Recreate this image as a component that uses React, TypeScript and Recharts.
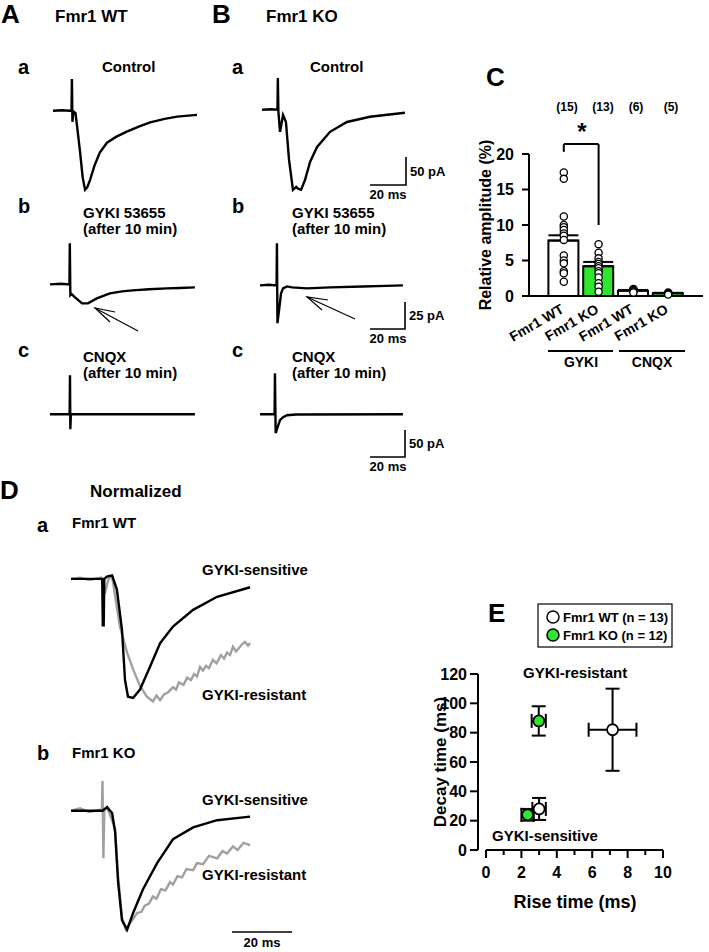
import React from "react";
import {
  LineChart,
  Line,
  ComposedChart,
  Bar,
  Cell,
  Scatter,
  ScatterChart,
  XAxis,
  YAxis,
  ErrorBar,
  ReferenceLine,
} from "recharts";

// ---- panel C: relative amplitude (%) ----
const groups = ["Fmr1 WT", "Fmr1 KO", "Fmr1 WT", "Fmr1 KO"];
const groupN = ["(15)", "(13)", "(6)", "(5)"];
const barMeans = [7.8, 4.2, 0.75, 0.4];
const barSem = [0.75, 0.6, 0.1, 0.05];
const barFill = ["#ffffff", "#2ee62e", "#ffffff", "#2ee62e"];
const ptsWT_GYKI = [17.4, 16.5, 11.2, 10.0, 9.7, 9.3, 8.8, 8.5, 7.9, 5.7, 5.0, 4.6, 3.5, 3.2, 2.0];
const ptsKO_GYKI = [7.3, 6.1, 5.3, 4.8, 4.5, 4.2, 3.9, 3.5, 3.2, 2.6, 1.8, 1.3, 0.6];
const ptsWT_CNQX = [1.0, 0.9, 0.8, 0.7, 0.6, 0.5];
const ptsKO_CNQX = [0.5, 0.4, 0.35, 0.3, 0.2];
const ampTicks = [0, 5, 10, 15, 20];

// ---- panel E: rise / decay ----
const wtRise = [3.0, 7.15];
const wtRiseErr = [0.38, 1.35];
const wtDecay = [28, 82];
const wtDecayErr = [7.5, 28];
const koRise = [2.35, 2.98];
const koRiseErr = [0.35, 0.4];
const koDecay = [24, 88];
const koDecayErr = [4, 10];
const riseTicks = [0, 1, 2, 3, 4, 5, 6, 7, 8, 9, 10];
const decayTicks = [0, 20, 40, 60, 80, 100, 120];

// ---- traces (t in ms, v in pA, or normalized for D) ----
const wtControl = [[0, 0], [5, 1], [9.2, 0], [10.3, 0], [10.5, 55], [10.8, -19], [11.3, -1], [12.5, -4], [13.5, -30], [15, -70], [16.5, -115], [17.8, -136], [19, -132], [20.6, -119], [23, -95], [26, -72], [30, -55], [35, -45], [41, -36], [48, -27], [54, -20], [62, -14], [69, -10], [80, -7]];
const koControl = [[0, 0], [5, 1], [8.6, 0], [8.8, 55], [9.1, -3], [10, -38], [11.7, -9], [13.3, -21], [15, -86], [17.2, -138], [19, -133], [20, -136], [21.7, -138], [23.9, -121], [26.7, -90], [30.6, -64], [37.8, -38], [47.2, -21], [60, -12], [79.4, -5]];
const wtGykiTrace = [[0, 0], [6, 0.5], [10.8, 0], [11, 38], [11.3, -10], [12, -9], [13.9, -12], [17.8, -17.6], [21.1, -17.6], [26, -13], [33.3, -8.3], [40, -6.5], [46, -5.6], [55, -4.5], [65, -3.7], [72, -3.4], [80.5, -2.8]];
const koGykiTrace = [[0, 0], [5, 0.5], [9.2, 0], [9.4, 39], [9.7, -35], [11.7, -7.4], [12.8, -2.8], [15, -1], [17.8, -1.9], [26, -2.8], [39, -1.9], [57, -1], [70, -0.5], [79.4, 0]];
const wtCnqxTrace = [[0, 0], [10.9, 0], [11.1, 72], [11.3, -28], [11.6, 0], [40, 0], [80.5, 0]];
const koCnqxTrace = [[0, 0], [8.1, 0], [8.3, 76], [8.7, -35], [11.1, -11], [12.8, -5.6], [15, -2], [20, -0.5], [79.4, 0]];

const dWtSens = [[0, 0], [10.4, 0], [10.6, -0.39], [10.9, -0.39], [11.1, 0], [12, 0.02], [13.7, 0.03], [15.3, -0.09], [17, -0.43], [18, -0.85], [19, -0.99], [20.7, -1.0], [23, -0.93], [26.3, -0.74], [29.7, -0.54], [34, -0.4], [40.7, -0.26], [48.7, -0.15], [59.7, -0.07]];
const dWtRes = [[0, 0], [3, 0.01], [6, -0.01], [10, 0.01], [11.5, -0.1], [12.5, 0], [13.7, 0.02], [16.3, -0.4], [18.7, -0.62], [20.7, -0.76], [23, -0.9], [25.3, -0.99], [27.3, -1.03], [28.5, -0.98], [29.7, -1.02], [31, -0.97], [32.5, -0.95], [34, -0.91], [35, -0.93], [36, -0.87], [37.5, -0.89], [38.7, -0.83], [40, -0.85], [41, -0.8], [42, -0.82], [43, -0.74], [44, -0.77], [45, -0.73], [46, -0.75], [47.3, -0.68], [48.5, -0.71], [50, -0.64], [51, -0.67], [52, -0.62], [53, -0.64], [54, -0.57], [55, -0.61], [56, -0.58], [57, -0.55], [58, -0.53], [59, -0.56], [59.7, -0.54]];
const dKoSens = [[0, 0], [10.5, 0], [12, 0.03], [13.7, -0.02], [14.7, -0.18], [15.7, -0.6], [17, -0.92], [18.7, -1.0], [20.7, -0.86], [24, -0.66], [28.7, -0.44], [34, -0.24], [40.7, -0.14], [48.7, -0.08], [59.7, -0.05]];
const dKoRes = [[0, 0], [3, 0.02], [6, -0.01], [10.3, 0.01], [10.5, 0.25], [10.8, -0.4], [11.1, 0], [12, 0.03], [14.7, -0.15], [15.7, -0.55], [17, -0.9], [18.3, -1.0], [19.5, -0.95], [21, -0.9], [22, -0.86], [23.5, -0.85], [24.5, -0.8], [26, -0.78], [27.3, -0.72], [28.5, -0.74], [30, -0.66], [31.5, -0.67], [33, -0.6], [34, -0.62], [35.5, -0.55], [37, -0.56], [38.5, -0.49], [40.7, -0.5], [42, -0.44], [44, -0.45], [46, -0.38], [48.7, -0.4], [50.5, -0.34], [52, -0.36], [54, -0.3], [55.5, -0.33], [57.5, -0.27], [59.7, -0.29]];

const FONT = "'Liberation Sans', Arial, Helvetica, sans-serif";

const toPts = (arr: number[][]) => arr.map(([t, v]) => ({ t, v }));

function Trace({ series, left, baseY, tMax, xs, ys, vMin, vMax }: any) {
  const width = tMax * xs;
  const height = (vMax - vMin) * ys;
  const top = baseY - vMax * ys;
  return (
    <div style={{ position: "absolute", left, top }}>
      <LineChart width={width} height={height} margin={{ top: 0, right: 0, bottom: 0, left: 0 }}>
        <XAxis type="number" dataKey="t" domain={[0, tMax]} hide />
        <YAxis type="number" domain={[vMin, vMax]} hide />
        {series.map((s: any, i: number) => (
          <Line
            key={i}
            data={toPts(s.data)}
            dataKey="v"
            type="linear"
            dot={false}
            stroke={s.color}
            strokeWidth={s.width || 2.4}
            isAnimationActive={false}
          />
        ))}
      </LineChart>
    </div>
  );
}

const T = ({ x, y, size, children, anchor, weight }: any) => (
  <text x={x} y={y} fontSize={size} fontWeight={weight || "bold"} textAnchor={anchor || "start"} fontFamily={FONT} fill="#000">
    {children}
  </text>
);

const CatTick = ({ x, y, payload }: any) => {
  const lbl = groups[payload.value - 1];
  if (!lbl) return null;
  const ax = x + 1;
  const ay = y + 16;
  return (
    <text x={ax} y={ay} textAnchor="end" fontSize={14} fontWeight="bold" fontFamily={FONT} transform={`rotate(-30, ${ax}, ${ay})`}>
      {lbl}
    </text>
  );
};

const RiseTick = ({ x, y, payload }: any) => {
  const major = payload.value % 2 === 0;
  return (
    <g>
      <line x1={x} x2={x} y1={y} y2={y + (major ? 8 : 5)} stroke="#000" strokeWidth={2} />
      {major && (
        <text x={x} y={y + 28} textAnchor="middle" fontSize={16} fontWeight="bold" fontFamily={FONT}>
          {payload.value}
        </text>
      )}
    </g>
  );
};

const Dot = (fill: string, r: number, sw: number) => (props: any) => {
  const { cx, cy } = props;
  return <circle cx={cx} cy={cy} r={r} fill={fill} stroke="#000" strokeWidth={sw} />;
};

export default function App() {
  const barData = barMeans.map((m, i) => ({ x: i + 1, mean: m, err: [0, barSem[i]] }));
  const allPts = [ptsWT_GYKI, ptsKO_GYKI, ptsWT_CNQX, ptsKO_CNQX];
  const ptData = allPts.flatMap((arr, i) => arr.map((v) => ({ x: i + 1, y: v })));
  const wtData = wtRise.map((r, i) => ({ rise: r, decay: wtDecay[i], ex: wtRiseErr[i], ey: wtDecayErr[i] }));
  const koData = koRise.map((r, i) => ({ rise: r, decay: koDecay[i], ex: koRiseErr[i], ey: koDecayErr[i] }));

  const black = "#000000";
  const grey = "#a0a0a0";

  return (
    <div style={{ position: "absolute", left: 0, top: 0, width: 709, height: 952, background: "#fff", fontFamily: FONT }}>
      {/* traces A / B */}
      <Trace series={[{ data: wtControl, color: black }]} left={53} baseY={111} tMax={80.5} xs={1.8} ys={0.58} vMin={-145} vMax={60} />
      <Trace series={[{ data: koControl, color: black }]} left={262} baseY={110} tMax={80} xs={1.8} ys={0.58} vMin={-145} vMax={60} />
      <Trace series={[{ data: wtGykiTrace, color: black }]} left={50} baseY={284} tMax={81} xs={1.8} ys={1.08} vMin={-40} vMax={42} />
      <Trace series={[{ data: koGykiTrace, color: black }]} left={260} baseY={285} tMax={80} xs={1.8} ys={1.08} vMin={-40} vMax={42} />
      <Trace series={[{ data: wtCnqxTrace, color: black }]} left={50} baseY={414} tMax={81} xs={1.8} ys={0.54} vMin={-40} vMax={80} />
      <Trace series={[{ data: koCnqxTrace, color: black }]} left={260} baseY={414} tMax={80} xs={1.8} ys={0.54} vMin={-40} vMax={80} />

      {/* traces D */}
      <Trace series={[{ data: dWtRes, color: grey }, { data: dWtSens, color: black }]} left={71} baseY={579} tMax={60} xs={3} ys={119} vMin={-1.1} vMax={0.1} />
      <Trace series={[{ data: dKoRes, color: grey }, { data: dKoSens, color: black }]} left={71} baseY={811} tMax={60} xs={3} ys={119} vMin={-1.1} vMax={0.3} />

      {/* panel C */}
      <div style={{ position: "absolute", left: 470, top: 100 }}>
        <ComposedChart data={barData} width={233} height={276} margin={{ top: 54, right: 0, bottom: 0, left: 9 }}>
          <XAxis
            type="number"
            dataKey="x"
            domain={[0, 5]}
            ticks={[1, 2, 3, 4]}
            tick={<CatTick />}
            tickLine={false}
            tickSize={0}
            tickMargin={0}
            height={80}
            axisLine={{ stroke: "#000", strokeWidth: 2 }}
            interval={0}
          />
          <YAxis
            type="number"
            domain={[0, 20]}
            ticks={ampTicks}
            width={50}
            tick={{ fontSize: 16, fontWeight: "bold", fill: "#000", fontFamily: FONT }}
            tickSize={7}
            tickMargin={8}
            tickLine={{ stroke: "#000", strokeWidth: 2 }}
            axisLine={{ stroke: "#000", strokeWidth: 2 }}
          />
          <Bar dataKey="mean" barSize={30} stroke="#000" strokeWidth={2} isAnimationActive={false}>
            {barData.map((d, i) => (
              <Cell key={i} fill={barFill[i]} />
            ))}
            <ErrorBar dataKey="err" width={15} stroke="#000" strokeWidth={2} direction="y" />
          </Bar>
          <Scatter data={ptData} dataKey="y" shape={Dot("#ffffff", 3.6, 1.3)} isAnimationActive={false} />
          <ReferenceLine segment={[{ x: 1, y: 20.3 }, { x: 1, y: 21.4 }]} stroke="#000" strokeWidth={2} ifOverflow="visible" />
          <ReferenceLine segment={[{ x: 1, y: 21.4 }, { x: 2, y: 21.4 }]} stroke="#000" strokeWidth={2} ifOverflow="visible" />
          <ReferenceLine segment={[{ x: 2, y: 21.4 }, { x: 2, y: 10 }]} stroke="#000" strokeWidth={2} ifOverflow="visible" />
        </ComposedChart>
      </div>

      {/* panel E */}
      <div style={{ position: "absolute", left: 430, top: 664 }}>
        <ScatterChart width={253} height={241} margin={{ top: 10, right: 20, bottom: 0, left: 0 }}>
          <XAxis
            type="number"
            dataKey="rise"
            domain={[0, 10]}
            ticks={riseTicks}
            interval={0}
            padding={{ left: 8, right: 0 }}
            axisLine={false}
            tickLine={false}
            tickSize={0}
            tickMargin={0}
            tick={<RiseTick />}
            height={55}
          />
          <YAxis
            type="number"
            dataKey="decay"
            domain={[0, 120]}
            ticks={decayTicks}
            width={48}
            tick={{ fontSize: 16, fontWeight: "bold", fill: "#000", fontFamily: FONT }}
            tickSize={8}
            tickMargin={3}
            tickLine={{ stroke: "#000", strokeWidth: 2 }}
            axisLine={{ stroke: "#000", strokeWidth: 2 }}
          />
          <ReferenceLine segment={[{ x: 0, y: 0 }, { x: 10, y: 0 }]} stroke="#000" strokeWidth={2} ifOverflow="visible" />
          <Scatter data={wtData} shape={Dot("#ffffff", 5.5, 1.8)} isAnimationActive={false}>
            <ErrorBar dataKey="ex" direction="x" width={7} stroke="#000" strokeWidth={2} />
            <ErrorBar dataKey="ey" direction="y" width={7} stroke="#000" strokeWidth={2} />
          </Scatter>
          <Scatter data={koData} shape={Dot("#2ee62e", 5.5, 1.8)} isAnimationActive={false}>
            <ErrorBar dataKey="ex" direction="x" width={7} stroke="#000" strokeWidth={2} />
            <ErrorBar dataKey="ey" direction="y" width={7} stroke="#000" strokeWidth={2} />
          </Scatter>
        </ScatterChart>
      </div>

      {/* annotation layer */}
      <svg width={709} height={952} style={{ position: "absolute", left: 0, top: 0, pointerEvents: "none" }}>
        <T x={1} y={23} size={26}>A</T>
        <T x={55} y={22} size={17}>Fmr1 WT</T>
        <T x={212} y={23} size={26}>B</T>
        <T x={266} y={22} size={17}>Fmr1 KO</T>

        <T x={18} y={74} size={20}>a</T>
        <T x={102} y={72} size={15}>Control</T>
        <T x={232} y={74} size={20}>a</T>
        <T x={310} y={72} size={15}>Control</T>

        <T x={18} y={213} size={20}>b</T>
        <T x={83} y={218} size={15}>GYKI 53655</T>
        <T x={83} y={234} size={15}>(after 10 min)</T>
        <T x={232} y={213} size={20}>b</T>
        <T x={292} y={218} size={15}>GYKI 53655</T>
        <T x={292} y={234} size={15}>(after 10 min)</T>

        <T x={18} y={357} size={20}>c</T>
        <T x={83} y={362} size={15}>CNQX</T>
        <T x={83} y={378} size={15}>(after 10 min)</T>
        <T x={232} y={357} size={20}>c</T>
        <T x={292} y={362} size={15}>CNQX</T>
        <T x={292} y={378} size={15}>(after 10 min)</T>

        {/* scale bars */}
        <g stroke="#000" strokeWidth={1.6} fill="none">
          <polyline points="370,185 406,185 406,157" />
          <polyline points="370,329 405,329 405,302" />
          <polyline points="370,457 405,457 405,430" />
          <line x1={232} x2={292} y1={932} y2={932} />
        </g>
        <T x={410} y={176} size={13}>50 pA</T>
        <T x={388} y={199} size={13} anchor="middle">20 ms</T>
        <T x={409} y={320} size={13}>25 pA</T>
        <T x={388} y={343} size={13} anchor="middle">20 ms</T>
        <T x={409} y={448} size={13}>50 pA</T>
        <T x={388} y={471} size={13} anchor="middle">20 ms</T>
        <T x={262} y={947} size={13} anchor="middle">20 ms</T>

        {/* arrows */}
        <g stroke="#000" strokeWidth={1.2} fill="none">
          <line x1={138} y1={331} x2={95} y2={308} />
          <polyline points="115,312 95,308 110,322" />
          <line x1={355} y1={319} x2={307} y2={297} />
          <polyline points="328,300 307,297 322,310" />
        </g>

        {/* panel C texts */}
        <T x={486} y={86} size={26}>C</T>
        {groupN.map((g, i) => (
          <T key={i} x={[567, 603, 636, 671][i]} y={111} size={12} anchor="middle">{g}</T>
        ))}
        <T x={582} y={140} size={24} anchor="middle">*</T>
        <text
          x={491}
          y={225}
          fontSize={16}
          fontWeight="bold"
          fontFamily={FONT}
          textAnchor="middle"
          transform="rotate(-90, 491, 225)"
        >
          Relative amplitude (%)
        </text>
        <g stroke="#000" strokeWidth={1.8}>
          <line x1={548} x2={613} y1={351} y2={351} />
          <line x1={619} x2={685} y1={351} y2={351} />
        </g>
        <T x={581} y={367} size={14} anchor="middle">GYKI</T>
        <T x={652} y={367} size={14} anchor="middle">CNQX</T>

        {/* panel D texts */}
        <T x={0} y={499} size={26}>D</T>
        <T x={90} y={497} size={17}>Normalized</T>
        <T x={37} y={532} size={20}>a</T>
        <T x={72} y={528} size={15}>Fmr1 WT</T>
        <T x={202} y={575} size={15}>GYKI-sensitive</T>
        <T x={202} y={700} size={15}>GYKI-resistant</T>
        <T x={37} y={760} size={20}>b</T>
        <T x={72} y={758} size={15}>Fmr1 KO</T>
        <T x={202} y={805} size={15}>GYKI-sensitive</T>
        <T x={202} y={880} size={15}>GYKI-resistant</T>

        {/* panel E texts */}
        <T x={488} y={622} size={26}>E</T>
        <rect x={538} y={604} width={134} height={43} fill="#fff" stroke="#000" strokeWidth={1.2} />
        <circle cx={553} cy={617} r={6} fill="#fff" stroke="#000" strokeWidth={1.5} />
        <circle cx={553} cy={635} r={6} fill="#2ee62e" stroke="#000" strokeWidth={1.5} />
        <T x={563} y={622} size={13}>Fmr1 WT (n = 13)</T>
        <T x={563} y={640} size={13}>Fmr1 KO (n = 12)</T>
        <T x={523} y={678} size={15}>GYKI-resistant</T>
        <T x={492} y={841} size={15}>GYKI-sensitive</T>
        <text
          x={446}
          y={762}
          fontSize={17}
          fontWeight="bold"
          fontFamily={FONT}
          textAnchor="middle"
          transform="rotate(-90, 446, 762)"
        >
          Decay time (ms)
        </text>
        <T x={575} y={908} size={18} anchor="middle">Rise time (ms)</T>
      </svg>
    </div>
  );
}
